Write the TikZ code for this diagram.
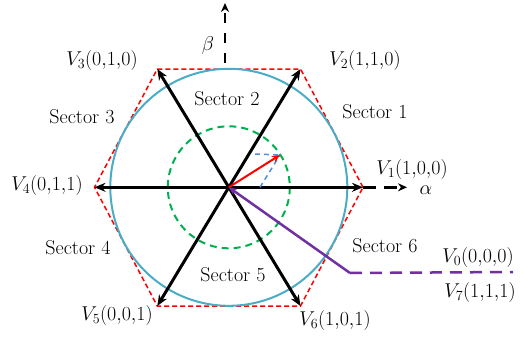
\RequirePackage{fix-cm}
\documentclass[tikz,border=0pt]{standalone}
\usetikzlibrary{arrows.meta}
\definecolor{hexred}{RGB}{255,0,0}
\definecolor{cblue}{RGB}{75,172,198}
\definecolor{cgreen}{RGB}{0,176,80}
\definecolor{cpurple}{RGB}{112,48,160}
\definecolor{lblue}{RGB}{85,142,213}
\begin{document}
\begin{tikzpicture}[x=1pt,y=-1pt,
  lab/.style={font=\fontsize{20}{24}\selectfont, inner sep=0pt},
  vec/.style={line width=3pt,-{Stealth[length=11pt,width=9pt]}},
  axisline/.style={line width=2.5pt,-{Stealth[length=9pt,width=8pt]}}]
\useasboundingbox (0,0) rectangle (523,338);
\coordinate (O) at (228.8,187.3);
\coordinate (v1) at (363,187.3);
\coordinate (v2) at (300.5,69);
\coordinate (v3) at (157.3,69);
\coordinate (v4) at (94.5,187.3);
\coordinate (v5) at (157.3,306);
\coordinate (v6) at (300.5,306);
% hexagon
\draw[hexred, line width=1.5pt, dash pattern=on 5pt off 3pt] (v1)--(v2)--(v3)--(v4)--(v5)--(v6)--cycle;
% circles
\draw[cblue, line width=2pt] (O) circle[radius=118.5];
\draw[cgreen, line width=2pt, dash pattern=on 7pt off 5pt] (O) circle[radius=61];
% axes
\coordinate (ax) at (407,187.3);
\draw[axisline, dash pattern=on 13pt off 8pt] (v1) -- (ax);
\coordinate (b0) at (225,63);
\coordinate (b1) at (225,3);
\draw[axisline, dash pattern=on 10pt off 10pt] (b0) -- (b1);
% vectors
\foreach \v in {v1,v2,v3,v4,v5,v6} \draw[vec] (O) -- (\v);
% reference vector
\coordinate (rt) at (280,155);
\coordinate (bh) at (255,154);
\coordinate (ba) at (260,187.3);
\draw[lblue, line width=1.5pt, dash pattern=on 5pt off 4pt] (bh) -- (rt);
\draw[lblue, line width=1.5pt, dash pattern=on 5pt off 4pt] (ba) -- (rt);
\draw[hexred, line width=2pt, -{Stealth[length=8pt,width=7pt]}] (O) -- (rt);
% zero vectors
\coordinate (pk) at (350,273);
\coordinate (pe) at (513,272);
\draw[cpurple, line width=2.5pt, {Stealth[length=8pt,width=7pt]}-] (O) -- (pk);
\draw[cpurple, line width=2.5pt, dash pattern=on 12pt off 8pt] (pk) -- (pe);
% labels
\node[lab] (l1) at (412,169) {$V_1(1{,}0{,}0)$};
\node[lab] (l2) at (365,60) {$V_2(1{,}1{,}0)$};
\node[lab] (l3) at (102,60) {$V_3(0{,}1{,}0)$};
\node[lab] (l4) at (47,185) {$V_4(0{,}1{,}1)$};
\node[lab] (l5) at (117,315) {$V_5(0{,}0{,}1)$};
\node[lab] (l6) at (335,320) {$V_6(1{,}0{,}1)$};
\node[lab] (l0) at (478,257) {$V_0(0{,}0{,}0)$};
\node[lab] (l7) at (480,292) {$V_7(1{,}1{,}1)$};
\node[lab] (al) at (426,190) {$\alpha$};
\node[lab] (be) at (208,45) {$\beta$};
\node[lab] (s1) at (375,112) {Sector 1};
\node[lab] (s2) at (227,99) {Sector 2};
\node[lab] (s3) at (82,117) {Sector 3};
\node[lab] (s4) at (78,248) {Sector 4};
\node[lab] (s5) at (233,275) {Sector 5};
\node[lab] (s6) at (385,246) {Sector 6};
\end{tikzpicture}
\end{document}
